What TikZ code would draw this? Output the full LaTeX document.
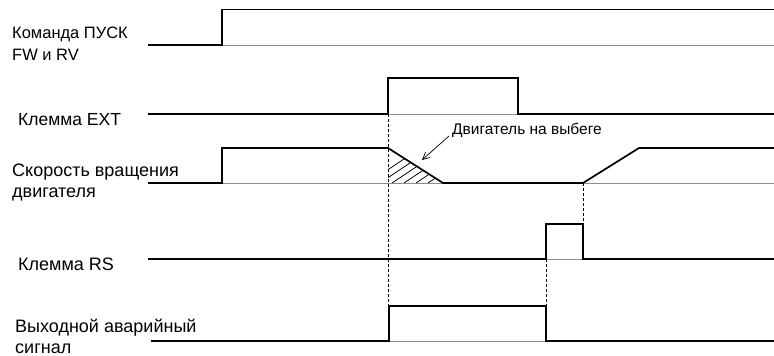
\documentclass[tikz,border=0pt]{standalone}
\usepackage{fontspec}
\setmainfont{Liberation Sans}
\usetikzlibrary{arrows.meta}
\begin{document}
\begin{tikzpicture}[x=1pt,y=-1pt,
  sig/.style={line width=1.7pt, line join=miter},
  base/.style={line width=0.6pt, draw=black!45},
  guide/.style={line width=0.6pt, dashed, dash pattern=on 3pt off 2pt},
  lbl/.style={anchor=base west, inner sep=0pt, font=\fontsize{18}{21}\selectfont, align=left},
  note/.style={anchor=base west, inner sep=0pt, font=\fontsize{15.5}{18}\selectfont}]
\useasboundingbox (0,0) rectangle (774,356);
% labels
\node[lbl, font=\fontsize{16.5}{21.5}\selectfont] (lcmd) at (12,60) {Команда ПУСК\\FW и RV};
\node[lbl, font=\fontsize{17.5}{21}\selectfont] (lext) at (18,125) {Клемма EXT};
\node[lbl] (lspd) at (12,197) {Скорость вращения\\двигателя};
\node[lbl] (lrs) at (18,270) {Клемма RS};
\node[lbl] (lout) at (15,353.5) {Выходной аварийный\\сигнал};
% thin baselines under high states
\draw[base] (222,45) -- (774,45);
\draw[base] (388,114) -- (518,114);
\draw[base] (222,183) -- (774,183);
\draw[base] (546,259) -- (583,259);
\draw[base] (389,341) -- (546,341);
% dashed guides
\draw[guide] (388,114) -- (388,306);
\draw[guide] (546,259) -- (546,306);
\draw[guide] (583,183) -- (583,224);
% hatch
\begin{scope}
\clip (388,148) -- (443,183) -- (388,183) -- cycle;
\foreach \s in {368,380,392,404,416,428}
  \draw[line width=0.8pt] (\s,183) -- ++(60,-40);
\end{scope}
% signals
\draw[sig] (148,45) -- (222,45) -- (222,9.5) -- (774,9.5);
\draw[sig] (148,114) -- (388,114) -- (388,78) -- (518,78) -- (518,114) -- (774,114);
\draw[sig] (148,183) -- (222,183) -- (222,148) -- (388,148) -- (443,183) -- (583,183) -- (639,148) -- (774,148);
\draw[sig] (148,259) -- (546,259) -- (546,224) -- (583,224) -- (583,259) -- (774,259);
\draw[sig] (151,341) -- (389,341) -- (389,306) -- (546,306) -- (546,341) -- (774,341);
% annotation
\node[note] (coast) at (452,134) {Двигатель на выбеге};
\coordinate (tip) at (422,160);
\draw[line width=0.7pt, -{Straight Barb[length=7pt,width=7pt]}] (449,136) -- (tip);
\end{tikzpicture}
\end{document}
